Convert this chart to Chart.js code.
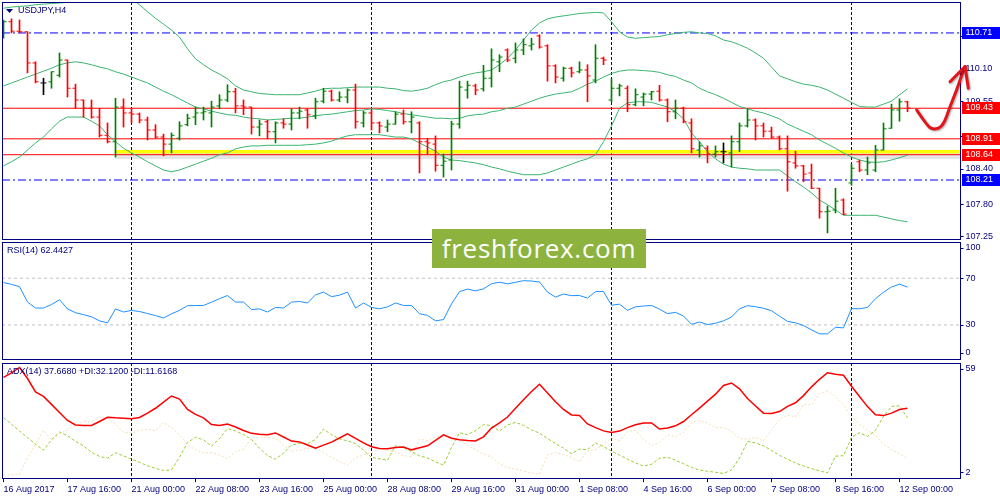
<!DOCTYPE html>
<html>
<head>
<meta charset="utf-8">
<title>USDJPY,H4</title>
<script src="https://cdn.jsdelivr.net/npm/chart.js@4.4.1/dist/chart.umd.min.js"></script>
<style>
  html, body { margin: 0; padding: 0; background: #fff; }
  #wrap { position: relative; width: 1000px; height: 500px; overflow: hidden; }
  #wrap canvas { position: absolute; left: 0; }
  #logo {
    position: absolute; left: 432px; top: 229px; width: 214px; height: 39px;
    background: #8db33e; color: #fff; text-align: center;
    font: 26px "Open Sans"; letter-spacing: 0.7px; line-height: 39px;
  }
</style>
</head>
<body>
<div id="wrap">
  <canvas id="mainChart" width="1000" height="241" style="top:0;width:1000px;height:241px"></canvas>
  <canvas id="rsiChart" width="1000" height="120" style="top:241px;width:1000px;height:120px"></canvas>
  <canvas id="adxChart" width="1000" height="139" style="top:361px;width:1000px;height:139px"></canvas>
  <div id="logo">freshforex.com</div>
</div>
<script>
// ---- data (H4 bars) ----
const opens = [
  110.66, 110.90, 110.74, 110.73, 110.20, 109.86, 109.88, 109.99, 110.25, 109.77,
  109.57, 109.43, 109.28, 108.97, 108.86, 109.45, 109.35, 109.33, 109.23, 109.06,
  108.94, 108.82, 108.92, 109.15, 109.28, 109.35, 109.35, 109.47, 109.57, 109.71,
  109.47, 109.45, 109.11, 109.20, 109.03, 109.18, 109.16, 109.35, 109.40, 109.30,
  109.55, 109.72, 109.57, 109.62, 109.74, 109.18, 109.35, 109.18, 109.11, 109.16,
  109.33, 109.20, 109.18, 108.86, 108.82, 108.46, 108.55, 109.16, 109.74, 109.81,
  109.76, 109.94, 110.22, 110.42, 110.28, 110.42, 110.49, 110.66, 110.49, 110.15,
  109.94, 110.11, 110.05, 110.08, 109.91, 110.28, 109.57, 109.77, 109.77, 109.49,
  109.62, 109.67, 109.72, 109.57, 109.37, 109.43, 109.18, 108.72, 108.75, 108.65,
  108.69, 108.67, 108.86, 109.13, 109.23, 109.13, 109.04, 108.94, 108.74, 108.50,
  108.45, 108.33, 108.07, 107.67, 107.70, 107.87, 108.16, 108.52, 108.38, 108.38,
  108.72, 109.09, 109.40, 109.54
];
const highs = [
  110.93, 110.95, 110.93, 110.73, 110.22, 109.94, 110.05, 110.37, 110.25, 109.84,
  109.57, 109.57, 109.43, 109.18, 109.60, 109.59, 109.43, 109.35, 109.28, 109.15,
  108.99, 109.01, 109.20, 109.33, 109.45, 109.45, 109.55, 109.66, 109.83, 109.77,
  109.57, 109.45, 109.23, 109.23, 109.20, 109.25, 109.42, 109.45, 109.42, 109.60,
  109.77, 109.74, 109.71, 109.76, 109.84, 109.38, 109.40, 109.20, 109.23, 109.37,
  109.40, 109.37, 109.20, 108.92, 108.96, 108.65, 109.21, 109.89, 109.89, 109.84,
  110.16, 110.44, 110.34, 110.44, 110.54, 110.61, 110.62, 110.68, 110.51, 110.17,
  110.13, 110.13, 110.22, 110.17, 110.51, 110.30, 109.93, 109.84, 109.81, 109.76,
  109.69, 109.72, 109.82, 109.59, 109.57, 109.45, 109.25, 108.86, 108.79, 108.79,
  108.84, 108.96, 109.18, 109.42, 109.25, 109.18, 109.11, 108.96, 108.96, 108.70,
  108.46, 108.48, 108.07, 107.77, 108.07, 107.89, 108.48, 108.55, 108.60, 108.80,
  109.18, 109.50, 109.59, 109.55
];
const lows = [
  110.62, 110.71, 110.71, 110.03, 109.86, 109.66, 109.77, 109.96, 109.62, 109.43,
  109.28, 109.26, 108.94, 108.84, 108.60, 109.11, 109.18, 109.18, 108.89, 108.92,
  108.62, 108.67, 108.89, 109.13, 109.15, 109.23, 109.11, 109.42, 109.54, 109.35,
  109.32, 108.99, 108.96, 108.91, 108.84, 109.09, 109.06, 109.25, 109.09, 109.25,
  109.52, 109.55, 109.54, 109.52, 109.09, 109.11, 109.06, 109.01, 109.03, 109.16,
  109.16, 109.01, 108.33, 108.65, 108.36, 108.26, 108.38, 109.09, 109.60, 109.66,
  109.72, 109.79, 110.05, 110.22, 110.20, 110.34, 110.42, 110.45, 109.89, 109.86,
  109.89, 109.96, 110.03, 109.54, 109.86, 110.17, 109.54, 109.64, 109.37, 109.47,
  109.47, 109.57, 109.55, 109.20, 109.25, 109.18, 108.67, 108.60, 108.50, 108.60,
  108.50, 108.43, 108.69, 109.11, 108.89, 108.94, 108.92, 108.72, 108.02, 108.41,
  108.18, 108.06, 107.56, 107.31, 107.65, 107.62, 108.12, 108.35, 108.30, 108.35,
  108.72, 109.09, 109.21, 109.37
];
const closes = [
  110.90, 110.74, 110.73, 110.20, 109.88, 109.86, 110.05, 110.25, 109.77, 109.57,
  109.43, 109.28, 108.97, 108.86, 109.45, 109.35, 109.33, 109.23, 109.06, 108.94,
  108.82, 108.97, 109.13, 109.26, 109.35, 109.37, 109.45, 109.57, 109.71, 109.47,
  109.45, 109.11, 109.16, 109.03, 109.18, 109.16, 109.35, 109.38, 109.32, 109.54,
  109.72, 109.57, 109.62, 109.74, 109.20, 109.35, 109.18, 109.13, 109.16, 109.33,
  109.20, 109.28, 108.86, 108.84, 108.46, 108.53, 109.16, 109.79, 109.82, 109.74,
  109.94, 110.25, 110.30, 110.25, 110.42, 110.51, 110.52, 110.47, 110.15, 109.96,
  110.11, 110.03, 110.08, 109.98, 110.28, 110.25, 109.77, 109.81, 109.49, 109.66,
  109.67, 109.71, 109.57, 109.37, 109.43, 109.20, 108.74, 108.79, 108.65, 108.69,
  108.69, 108.86, 109.13, 109.23, 109.13, 109.04, 108.94, 108.74, 108.52, 108.45,
  108.31, 108.07, 107.67, 107.68, 107.85, 107.63, 108.41, 108.38, 108.50, 108.72,
  109.08, 109.40, 109.54, 109.43
];

// Bollinger bands
const bbUpper = [
  111.13, 111.15, 111.16, 111.17, 111.19, 111.20, 111.21, 111.22, 111.23, 111.24,
  111.25, 111.27, 111.30, 111.37, 111.42, 111.41, 111.29, 111.19, 111.07, 110.96,
  110.86, 110.76, 110.64, 110.44, 110.27, 110.17, 110.08, 110.01, 109.93, 109.81,
  109.74, 109.71, 109.68, 109.67, 109.66, 109.66, 109.66, 109.66, 109.69, 109.72,
  109.76, 109.77, 109.77, 109.78, 109.79, 109.79, 109.79, 109.79, 109.77, 109.76,
  109.73, 109.72, 109.74, 109.77, 109.83, 109.88, 109.91, 109.96, 110.00, 110.03,
  110.05, 110.08, 110.17, 110.28, 110.42, 110.59, 110.76, 110.88, 110.95, 110.98,
  111.00, 111.02, 111.04, 111.05, 111.06, 111.05, 110.90, 110.73, 110.64, 110.62,
  110.63, 110.64, 110.65, 110.68, 110.70, 110.72, 110.73, 110.71, 110.70, 110.66,
  110.59, 110.56, 110.51, 110.45, 110.37, 110.28, 110.13, 109.98, 109.93, 109.88,
  109.84, 109.82, 109.79, 109.74, 109.67, 109.60, 109.53, 109.46, 109.45, 109.45,
  109.50, 109.55, 109.66, 109.76
];
const bbMiddle = [
  109.81, 109.86, 109.91, 109.96, 110.01, 110.06, 110.11, 110.17, 110.20, 110.22,
  110.20, 110.17, 110.13, 110.10, 110.05, 110.01, 109.96, 109.91, 109.86, 109.79,
  109.72, 109.66, 109.59, 109.52, 109.45, 109.42, 109.38, 109.35, 109.32, 109.31,
  109.28, 109.26, 109.25, 109.23, 109.24, 109.25, 109.26, 109.26, 109.28, 109.30,
  109.32, 109.33, 109.35, 109.37, 109.39, 109.40, 109.42, 109.41, 109.39, 109.37,
  109.34, 109.32, 109.30, 109.28, 109.26, 109.26, 109.25, 109.26, 109.30, 109.32,
  109.33, 109.37, 109.39, 109.43, 109.45, 109.50, 109.55, 109.60, 109.64, 109.67,
  109.69, 109.71, 109.77, 109.84, 109.89, 109.96, 110.02, 110.06, 110.08, 110.08,
  110.07, 110.06, 110.04, 110.00, 109.97, 109.91, 109.86, 109.77, 109.71, 109.66,
  109.60, 109.53, 109.46, 109.42, 109.38, 109.35, 109.30, 109.25, 109.16, 109.10,
  109.04, 108.98, 108.89, 108.82, 108.75, 108.67, 108.60, 108.55, 108.52, 108.51,
  108.52, 108.55, 108.59, 108.63
];
const bbLower = [
  108.45, 108.52, 108.60, 108.72, 108.84, 108.94, 109.08, 109.21, 109.28, 109.28,
  109.28, 109.21, 109.13, 108.98, 108.86, 108.75, 108.67, 108.60, 108.52, 108.45,
  108.38, 108.35, 108.38, 108.43, 108.48, 108.53, 108.58, 108.64, 108.67, 108.74,
  108.77, 108.79, 108.79, 108.80, 108.80, 108.80, 108.80, 108.80, 108.81, 108.82,
  108.84, 108.87, 108.92, 108.96, 108.98, 108.98, 108.98, 108.98, 108.96, 108.94,
  108.94, 108.91, 108.84, 108.77, 108.70, 108.60, 108.55, 108.54, 108.52, 108.50,
  108.47, 108.43, 108.40, 108.36, 108.33, 108.30, 108.30, 108.30, 108.33, 108.38,
  108.43, 108.48, 108.53, 108.57, 108.64, 108.86, 109.13, 109.43, 109.52, 109.54,
  109.54, 109.53, 109.49, 109.45, 109.37, 109.25, 109.01, 108.86, 108.69, 108.57,
  108.48, 108.43, 108.41, 108.40, 108.38, 108.38, 108.38, 108.38, 108.28, 108.18,
  108.09, 107.99, 107.87, 107.79, 107.70, 107.61, 107.61, 107.61, 107.61, 107.61,
  107.58, 107.55, 107.52, 107.50
];

// RSI(14)
const rsiValues = [
  66.3, 64.7, 62.8, 49.6, 44.5, 44.5, 47.5, 51.6, 43.7, 40.5,
  38.8, 37.0, 33.5, 31.8, 43.7, 41.1, 42.4, 41.5, 39.8, 38.0,
  36.0, 39.5, 42.5, 46.5, 46.6, 46.7, 49.5, 52.5, 55.2, 49.6,
  49.6, 43.2, 43.7, 41.1, 45.0, 44.5, 49.5, 50.1, 48.8, 55.8,
  58.1, 54.2, 55.5, 58.1, 44.5, 48.8, 45.0, 43.8, 45.5, 48.8,
  46.7, 46.7, 39.6, 38.2, 33.5, 34.6, 48.0, 58.5, 60.7, 59.2,
  60.9, 65.3, 66.6, 65.2, 66.5, 67.9, 67.6, 66.8, 58.1, 53.9,
  56.4, 55.1, 55.2, 53.0, 58.5, 58.6, 46.9, 47.8, 42.5, 45.5,
  46.2, 46.7, 43.5, 39.7, 40.8, 37.6, 30.6, 32.5, 30.3, 31.5,
  33.5, 36.8, 43.8, 46.5, 45.6, 44.3, 42.2, 37.5, 33.1, 31.8,
  29.5, 25.8, 22.4, 22.4, 28.0, 27.5, 44.0, 43.9, 45.0, 52.5,
  58.0, 62.5, 64.9, 62.4
];

// ADX(14), +DI, -DI
const adxMain = [
  51.9, 54.2, 56.8, 51.4, 44.8, 42.6, 38.7, 34.7, 30.8, 28.6,
  28.4, 28.4, 30.3, 32.4, 32.1, 31.9, 31.6, 32.3, 34.4, 36.8,
  39.8, 42.8, 41.3, 36.2, 33.8, 32.1, 28.8, 28.3, 29.1, 27.6,
  25.9, 24.5, 24.1, 23.8, 24.7, 22.7, 20.7, 20.3, 18.8, 17.2,
  18.7, 20.2, 22.2, 24.2, 22.0, 19.8, 17.9, 17.1, 16.9, 17.5,
  17.8, 16.4, 17.4, 18.4, 21.1, 23.8, 22.1, 21.4, 21.0, 20.8,
  22.8, 27.1, 29.6, 32.5, 36.8, 41.0, 45.0, 48.6, 44.3, 40.0,
  36.2, 33.5, 33.2, 29.1, 27.3, 25.7, 24.9, 25.6, 27.3, 28.7,
  29.6, 29.6, 26.6, 27.1, 28.2, 30.3, 33.6, 36.9, 40.3, 43.7,
  48.0, 49.2, 46.3, 41.6, 37.9, 34.4, 34.2, 35.2, 37.7, 39.5,
  43.0, 47.3, 51.0, 54.2, 53.5, 53.0, 47.6, 42.6, 37.6, 33.6,
  33.2, 34.4, 36.2, 36.8
];
const plusDI = [
  32.1, 29.0, 25.6, 22.5, 19.2, 16.2, 21.4, 25.2, 23.3, 20.6,
  18.3, 15.2, 13.2, 12.3, 15.0, 13.4, 11.9, 10.3, 8.6, 7.3,
  6.3, 6.5, 12.8, 20.0, 22.6, 21.3, 18.2, 21.9, 26.8, 25.7,
  23.9, 21.5, 17.2, 13.6, 11.8, 14.8, 18.8, 19.5, 19.4, 21.5,
  26.6, 23.8, 21.8, 20.8, 19.5, 16.2, 12.7, 12.0, 11.3, 18.4,
  17.5, 15.5, 13.5, 12.4, 10.5, 8.9, 17.5, 24.8, 23.8, 25.8,
  28.8, 28.3, 25.6, 28.6, 29.9, 28.4, 26.2, 24.6, 22.0, 19.5,
  17.2, 14.5, 16.7, 16.5, 19.8, 18.0, 15.8, 13.8, 11.8, 10.0,
  8.4, 9.3, 12.2, 12.8, 11.3, 9.6, 7.8, 6.5, 5.9, 5.4,
  4.8, 6.5, 12.4, 20.5, 19.8, 18.4, 16.1, 13.7, 11.8, 9.9,
  8.5, 7.2, 6.1, 5.1, 13.3, 13.5, 22.5, 24.8, 23.0, 26.0,
  32.8, 37.7, 38.0, 32.1
];
const minusDI = [
  4.0, 4.0, 4.3, 12.6, 19.0, 26.0, 21.4, 24.2, 26.4, 28.3,
  30.3, 30.3, 32.3, 31.8, 29.0, 25.0, 24.6, 26.0, 26.4, 25.8,
  29.9, 27.2, 24.0, 18.9, 16.4, 15.0, 15.0, 13.8, 12.2, 15.6,
  16.7, 22.2, 22.6, 22.6, 22.0, 18.8, 15.6, 16.2, 17.2, 17.4,
  15.0, 12.8, 10.6, 8.9, 12.5, 13.9, 15.0, 16.8, 16.3, 15.4,
  13.6, 13.0, 21.7, 21.0, 22.6, 23.8, 22.4, 20.8, 18.8, 16.4,
  14.4, 12.8, 9.5, 7.6, 7.0, 6.0, 5.1, 4.5, 14.0, 15.0,
  14.2, 12.6, 10.5, 16.0, 16.5, 19.0, 22.3, 20.8, 25.3, 26.0,
  21.5, 18.5, 20.0, 23.8, 22.8, 24.9, 29.9, 30.6, 29.6, 27.4,
  27.4, 25.4, 22.0, 21.6, 22.4, 20.8, 26.0, 31.5, 33.5, 32.4,
  38.7, 38.5, 44.0, 45.3, 42.5, 38.3, 32.6, 29.0, 26.0, 23.5,
  19.2, 16.6, 14.5, 12.2
];

// time axis
const labelBars = [0, 8, 16, 24, 32, 40, 48, 56, 64, 72, 80, 88, 96, 104, 112];
const timeLabels = ['16 Aug 2017', '17 Aug 16:00', '21 Aug 00:00', '22 Aug 08:00', '23 Aug 16:00',
  '25 Aug 00:00', '28 Aug 08:00', '29 Aug 16:00', '31 Aug 00:00', '1 Sep 08:00', '4 Sep 16:00',
  '6 Sep 00:00', '7 Sep 08:00', '8 Sep 16:00', '12 Sep 00:00'];
const weekBars = [16, 46, 76, 106];

// price axis + levels
const priceTicks = [107.25, 107.80, 108.40, 108.95, 109.55, 110.10, 110.65];
const redLevels = [109.43, 108.91, 108.64];
const blueLevels = [110.71, 108.21];
const highlightStart = 14;
const highlightPrice = 108.69;
const rsiTicks = [100, 70, 30, 0];
const rsiLevels = [70, 30];
const adxTicks = [59, 2];

// hand drawn arrow (bar index / price)
const arrowBars = [114.15, 115.4, 116.19, 117.44, 118.31, 119.15, 119.78, 120.19];
const arrowPrices = [109.40, 109.145, 109.06, 109.12, 109.46, 109.74, 109.995, 110.14];
const arrowWingBars = [118.31, 120.6];
const arrowWingPrices = [109.88, 109.77];

// ---- styling ----
const NAVY = '#000080';
const UP = '#008000', DOWN = '#ff0000', DOJI = '#000000';
const BAND = '#3cb371';
const X_MIN = -0.1875, X_MAX = 119.5625;
const FONT = '9px "Liberation Sans"';

const xy = (arr) => arr.map((v, i) => ({ x: i, y: v }));
const hline = (v, from) => [{ x: from, y: v }, { x: X_MAX, y: v }];

const barColors = closes.map((c, i) => c > opens[i] ? UP : (c < opens[i] ? DOWN : DOJI));

// frame, week separators, right axis labels, titles
const mtPanel = {
  id: 'mtPanel',
  beforeDatasetsDraw(chart) {
    const { ctx, chartArea: a, scales: { x } } = chart;
    ctx.save();
    ctx.strokeStyle = NAVY;
    ctx.lineWidth = 1;
    ctx.setLineDash([3, 2]);
    weekBars.forEach((b) => {
      const px = Math.floor(x.getPixelForValue(b)) + 0.5;
      ctx.beginPath();
      ctx.moveTo(px, a.top);
      ctx.lineTo(px, a.bottom);
      ctx.stroke();
    });
    ctx.restore();
  },
  afterDraw(chart, args, o) {
    const { ctx, chartArea: a, scales: { x, y } } = chart;
    const top = Math.round(a.top) + 0.5, bottom = Math.round(a.bottom) - 0.5;
    const left = Math.round(a.left) + 0.5, right = Math.round(a.right) + 0.5;
    const edge = o.edge || [6, 7];
    ctx.save();
    ctx.strokeStyle = NAVY;
    ctx.lineWidth = 1;
    ctx.strokeRect(left, top, right - left, bottom - top);

    ctx.font = FONT;
    ctx.textBaseline = 'middle';
    ctx.textAlign = 'left';
    (o.ticks || []).forEach((v) => {
      const py = Math.min(Math.max(y.getPixelForValue(v), a.top + edge[0]), a.bottom - edge[1]);
      ctx.beginPath();
      ctx.moveTo(right, Math.round(py) + 0.5);
      ctx.lineTo(right + 3, Math.round(py) + 0.5);
      ctx.stroke();
      ctx.fillStyle = NAVY;
      ctx.fillText(o.decimals ? v.toFixed(o.decimals) : String(v), right + 5, py);
    });
    (o.boxes || []).forEach((b) => {
      const py = Math.round(y.getPixelForValue(b.v));
      ctx.fillStyle = b.bg;
      ctx.fillRect(right + 1.5, py - 6, chart.width - right, 12);
      ctx.fillStyle = '#ffffff';
      ctx.fillText(b.v.toFixed(2), right + 5, py);
    });

    ctx.fillStyle = NAVY;
    ctx.fillText(o.title, a.left + o.titleX, a.top + 9);
    if (o.marker) {
      ctx.beginPath();
      ctx.moveTo(a.left + 4, a.top + 7);
      ctx.lineTo(a.left + 11, a.top + 7);
      ctx.lineTo(a.left + 7.5, a.top + 11);
      ctx.closePath();
      ctx.fill();
    }

    if (o.arrow) {
      const pts = arrowBars.map((b, i) => [x.getPixelForValue(b), y.getPixelForValue(arrowPrices[i])]);
      ctx.strokeStyle = '#e3151b';
      ctx.lineWidth = 3;
      ctx.lineCap = 'round';
      ctx.lineJoin = 'round';
      ctx.shadowColor = 'rgba(0,0,0,0.35)';
      ctx.shadowBlur = 2;
      ctx.shadowOffsetX = 1;
      ctx.shadowOffsetY = 1;
      ctx.beginPath();
      ctx.moveTo(pts[0][0], pts[0][1]);
      for (let i = 1; i < pts.length - 1; i++) {
        const mx = (pts[i][0] + pts[i + 1][0]) / 2, my = (pts[i][1] + pts[i + 1][1]) / 2;
        ctx.quadraticCurveTo(pts[i][0], pts[i][1], mx, my);
      }
      const tip = pts[pts.length - 1];
      ctx.lineTo(tip[0], tip[1]);
      ctx.stroke();
      ctx.beginPath();
      ctx.moveTo(x.getPixelForValue(arrowWingBars[0]), y.getPixelForValue(arrowWingPrices[0]));
      ctx.lineTo(tip[0], tip[1]);
      ctx.lineTo(x.getPixelForValue(arrowWingBars[1]), y.getPixelForValue(arrowWingPrices[1]));
      ctx.stroke();
    }
    ctx.restore();
  }
};

const xScale = (extra) => Object.assign({
  type: 'linear', min: X_MIN, max: X_MAX, offset: false, display: false,
  grid: { display: false, offset: false }
}, extra || {});

const baseOptions = (yScale, padding, panel, xExtra) => ({
  responsive: false,
  maintainAspectRatio: false,
  animation: false,
  events: [],
  layout: { padding, autoPadding: false },
  scales: { x: xScale(xExtra), y: yScale },
  plugins: { legend: { display: false }, tooltip: { enabled: false }, mtPanel: panel }
});

const lineDs = (data, color, width, order, dash) => ({
  type: 'line', data, borderColor: color, borderWidth: width, borderDash: dash || [],
  pointRadius: 0, tension: 0, fill: false, order
});

// ---- main price panel ----
new Chart(document.getElementById('mainChart'), {
  type: 'bar',
  data: {
    datasets: [
      { type: 'bar', data: lows.map((l, i) => ({ x: i, y: [l, highs[i]] })), backgroundColor: barColors,
        borderWidth: 0, barThickness: 1, order: 1 },
      { type: 'line', data: opens.map((v, i) => ({ x: i - 0.1875, y: v })), showLine: false,
        pointStyle: 'line', pointRadius: 1.5, pointBorderWidth: 1, pointBorderColor: barColors, order: 1 },
      { type: 'line', data: closes.map((v, i) => ({ x: i + 0.1875, y: v })), showLine: false,
        pointStyle: 'line', pointRadius: 1.5, pointBorderWidth: 1, pointBorderColor: barColors, order: 1 },
      lineDs(xy(bbUpper), BAND, 1, 2),
      lineDs(xy(bbMiddle), BAND, 1, 2),
      lineDs(xy(bbLower), BAND, 1, 2),
      lineDs(hline(redLevels[2] - 0.02, highlightStart), 'rgba(0,0,0,0.10)', 6, 6),
      lineDs(hline(highlightPrice, highlightStart), '#ffff00', 3.5, 5),
      ...redLevels.map((v) => lineDs(hline(v, X_MIN), '#ff0000', 1, 4)),
      ...blueLevels.map((v) => lineDs(hline(v, X_MIN), '#0000ff', 1, 4, [8, 3, 2, 3]))
    ]
  },
  options: baseOptions(
    { type: 'linear', min: 107.19, max: 111.236, display: false, beginAtZero: false },
    { top: 2, left: 2, right: 40, bottom: 1 },
    {
      ticks: priceTicks, decimals: 2, edge: [4, 3], title: 'USDJPY,H4', titleX: 16, marker: true, arrow: true,
      boxes: [
        { v: blueLevels[0], bg: '#0000ff' },
        { v: redLevels[0], bg: '#ff0000' },
        { v: redLevels[1], bg: '#ff0000' },
        { v: redLevels[2], bg: '#ff0000' },
        { v: blueLevels[1], bg: '#0000ff' }
      ]
    }
  ),
  plugins: [mtPanel]
});

// ---- RSI panel ----
new Chart(document.getElementById('rsiChart'), {
  type: 'line',
  data: {
    datasets: [
      lineDs(xy(rsiValues), '#1e90ff', 1, 1),
      ...rsiLevels.map((v) => lineDs(hline(v, X_MIN), '#c0c0c0', 1, 2, [3, 3]))
    ]
  },
  options: baseOptions(
    { type: 'linear', min: 0, max: 101, display: false },
    { top: 1, left: 2, right: 40, bottom: 1 },
    { ticks: rsiTicks, title: 'RSI(14) 62.4427', titleX: 5 }
  ),
  plugins: [mtPanel]
});

// ---- ADX panel ----
new Chart(document.getElementById('adxChart'), {
  type: 'line',
  data: {
    datasets: [
      lineDs(xy(adxMain), '#ff0000', 1.5, 1),
      lineDs(xy(plusDI), '#9acd32', 1, 2, [3, 2]),
      lineDs(xy(minusDI), '#f5deb3', 1, 3, [2, 2])
    ]
  },
  options: baseOptions(
    { type: 'linear', min: 2, max: 59, display: false },
    { top: 2, left: 2, right: 40, bottom: 3 },
    { ticks: adxTicks, title: 'ADX(14) 37.6680 +DI:32.1200 -DI:11.6168', titleX: 5 },
    {
      display: true,
      position: 'bottom',
      afterBuildTicks: (scale) => { scale.ticks = labelBars.map((v) => ({ value: v })); },
      ticks: {
        autoSkip: false, maxRotation: 0, minRotation: 0, align: 'start', padding: 2,
        color: NAVY, font: { family: 'Liberation Sans', size: 9 },
        callback: (value, index) => timeLabels[index]
      },
      grid: { display: true, drawOnChartArea: false, drawTicks: true, tickLength: 3, color: NAVY, offset: false },
      border: { display: false }
    }
  ),
  plugins: [mtPanel]
});
</script>
</body>
</html>
